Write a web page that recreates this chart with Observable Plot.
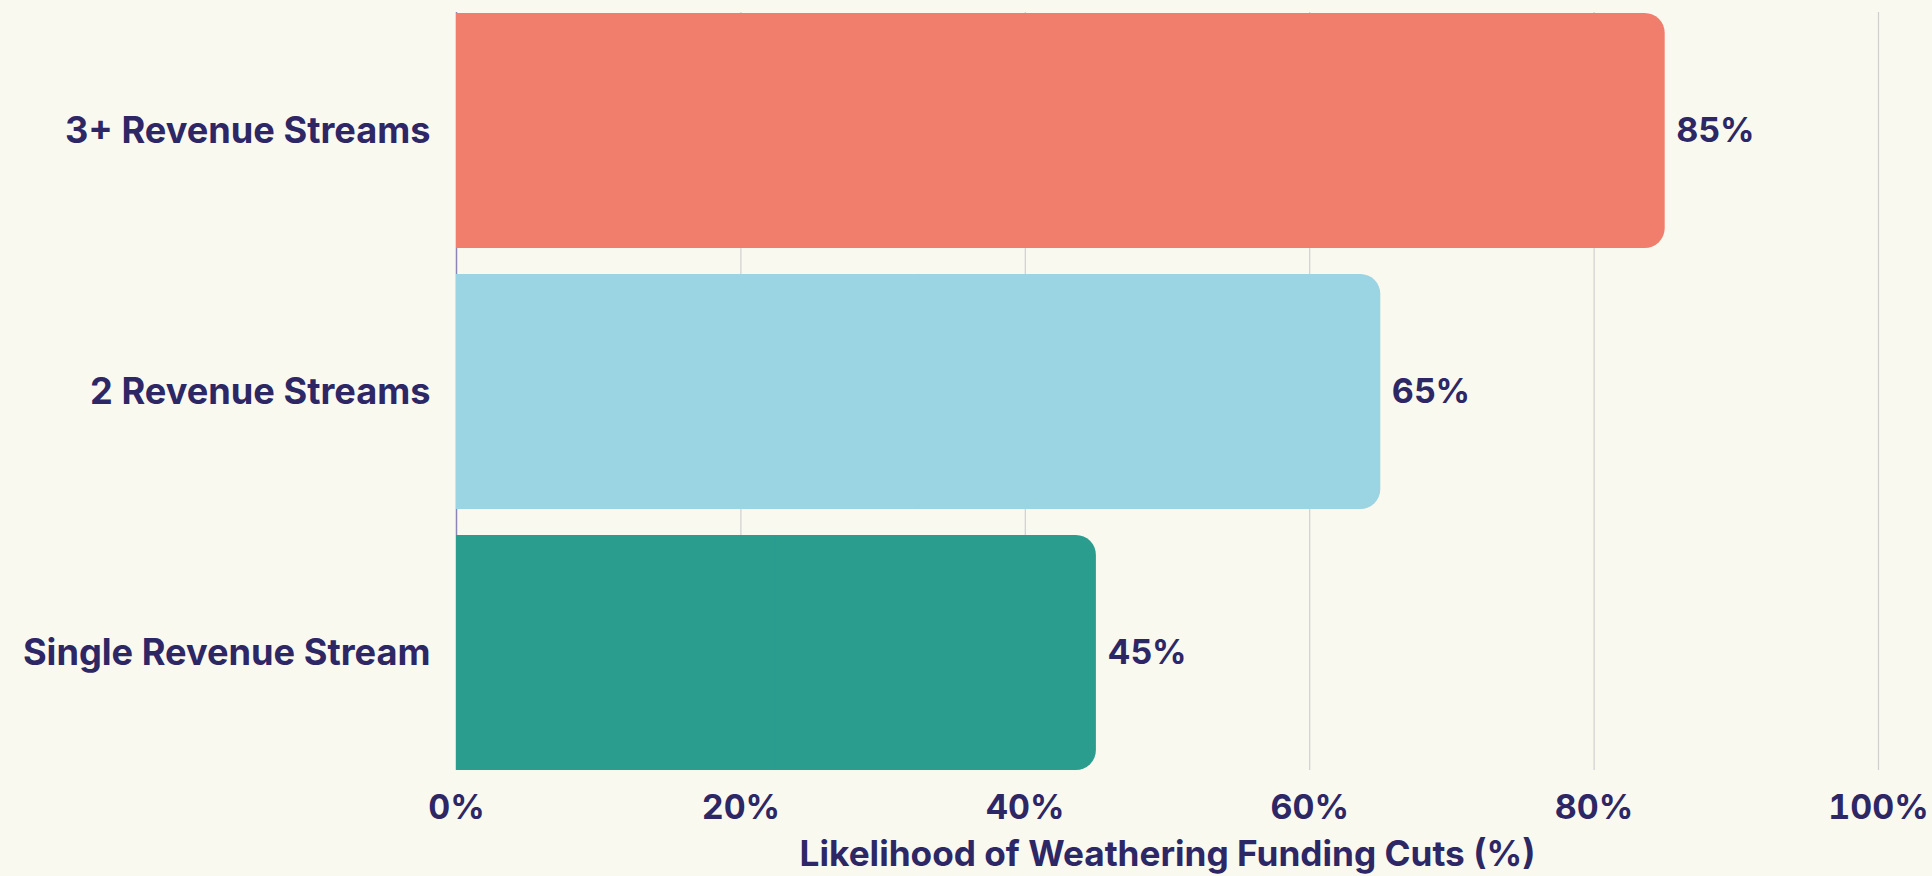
<!DOCTYPE html>
<html>
<head>
<meta charset="utf-8">
<script src="https://cdn.jsdelivr.net/npm/d3@7"></script>
<script src="https://cdn.jsdelivr.net/npm/@observablehq/plot@0.6"></script>
<style>
  html, body { margin: 0; padding: 0; background: #FAF9F0; }
  #chart svg { display: block; }
</style>
</head>
<body>
<div id="chart"></div>
<script>
const categories = ["3+ Revenue Streams", "2 Revenue Streams", "Single Revenue Stream"];
const values = [85, 65, 45];
const xTicks = [0, 20, 40, 60, 80, 100];
const axisLabel = "Likelihood of Weathering Funding Cuts (%)";
const palette = ["#F17E6C", "#9BD4E2", "#2A9D8F"];

const data = categories.map((c, i) => ({category: c, value: values[i]}));
const textColor = "#2D2766";
const font = "Inter, 'Liberation Sans', sans-serif";

const chart = Plot.plot({
  width: 1932,
  height: 876,
  marginLeft: 456,
  marginRight: 54,
  marginTop: 12,
  marginBottom: 106,
  style: {background: "#FAF9F0", fontFamily: font, color: textColor, overflow: "visible"},
  x: {domain: [0, 100], ticks: xTicks, tickFormat: d => d + "%", label: null},
  y: {domain: categories, paddingInner: 0.1, paddingOuter: 0, label: null},
  color: {domain: categories, range: palette},
  marks: [
    Plot.gridX(xTicks.filter(t => t > 0), {stroke: "#CFCFCF", strokeOpacity: 1, strokeWidth: 1.2}),
    Plot.ruleX([0], {stroke: "#8A86B5", strokeWidth: 1.5}),
    Plot.barX(data, {y: "category", x: "value", fill: "category", rx: 20}),
    Plot.barX(data, {y: "category", x1: 0, x2: d => d.value / 2, fill: "category"}),
    Plot.text(data, {y: "category", x: "value", text: d => d.value + "%", dx: 11, textAnchor: "start",
      fill: textColor, fontSize: 34, fontWeight: 700}),
    Plot.axisY({tickSize: 0, tickPadding: 26, fontSize: 36.2, fontWeight: 700, fill: textColor, label: null}),
    Plot.axisX({ticks: xTicks, tickFormat: d => d + "%", tickSize: 0, tickPadding: 24, fontSize: 34, fontWeight: 700, fill: textColor, label: null}),
    Plot.text([axisLabel], {frameAnchor: "bottom", dy: 95, text: d => d, fill: textColor, fontSize: 35.2, fontWeight: 700})
  ]
});
document.getElementById("chart").appendChild(chart);
</script>
</body>
</html>
